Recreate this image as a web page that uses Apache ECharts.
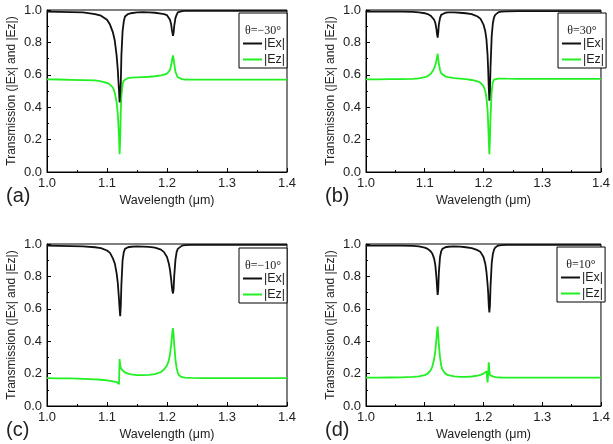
<!DOCTYPE html>
<html><head><meta charset="utf-8">
<script src="https://cdn.jsdelivr.net/npm/echarts@6/dist/echarts.min.js"></script>
<style>html,body{margin:0;padding:0;background:#fff}#c{width:613px;height:444px}</style>
</head><body><div id="c"></div>
<script>
var wl = [1.0,1.02,1.04,1.06,1.08,1.09,1.10,1.105,1.11,1.113,1.116,1.118,1.12,1.121,1.122,1.123,1.124,1.126,1.128,1.13,1.135,1.14,1.15,1.16,1.17,1.18,1.19,1.195,1.2,1.203,1.205,1.207,1.208,1.209,1.21,1.211,1.212,1.214,1.216,1.218,1.22,1.225,1.23,1.24,1.26,1.3,1.35,1.4];

var exA = [0.99,0.989,0.987,0.985,0.975,0.965,0.94,0.91,0.86,0.81,0.72,0.63,0.5,0.43,0.42,0.55,0.72,0.87,0.93,0.96,0.975,0.98,0.985,0.986,0.985,0.983,0.978,0.974,0.968,0.96,0.94,0.91,0.88,0.86,0.84,0.86,0.9,0.95,0.97,0.985,0.99,0.993,0.994,0.995,0.995,0.995,0.995,0.995];
var ezA = [0.572,0.571,0.569,0.567,0.565,0.56,0.55,0.54,0.52,0.49,0.43,0.36,0.22,0.11,0.2,0.38,0.47,0.54,0.565,0.575,0.58,0.582,0.584,0.586,0.588,0.591,0.597,0.601,0.607,0.615,0.63,0.66,0.68,0.705,0.72,0.7,0.67,0.62,0.6,0.585,0.578,0.573,0.571,0.57,0.57,0.57,0.57,0.57];

var exB = [0.99,0.99,0.99,0.99,0.988,0.985,0.98,0.975,0.965,0.955,0.94,0.92,0.88,0.85,0.83,0.86,0.91,0.95,0.97,0.978,0.983,0.985,0.985,0.983,0.98,0.975,0.96,0.945,0.91,0.87,0.82,0.72,0.63,0.52,0.44,0.5,0.65,0.84,0.92,0.955,0.97,0.985,0.99,0.992,0.993,0.993,0.993,0.993];
var ezB = [0.572,0.572,0.573,0.573,0.575,0.578,0.585,0.592,0.605,0.62,0.64,0.66,0.69,0.71,0.73,0.7,0.67,0.63,0.61,0.6,0.59,0.585,0.58,0.577,0.573,0.568,0.56,0.55,0.53,0.5,0.46,0.38,0.3,0.2,0.11,0.2,0.34,0.5,0.555,0.57,0.575,0.577,0.577,0.576,0.575,0.575,0.575,0.575];

var exC = [0.99,0.989,0.987,0.985,0.98,0.975,0.96,0.945,0.91,0.88,0.82,0.76,0.66,0.6,0.555,0.62,0.75,0.9,0.95,0.97,0.98,0.983,0.985,0.984,0.982,0.978,0.965,0.95,0.92,0.88,0.84,0.78,0.74,0.71,0.695,0.72,0.8,0.9,0.95,0.97,0.98,0.99,0.993,0.994,0.995,0.995,0.995,0.995];
var ezC = [0.172,0.171,0.17,0.168,0.164,0.162,0.158,0.155,0.152,0.15,0.148,0.152,0.135,0.29,0.25,0.235,0.228,0.22,0.213,0.207,0.2,0.195,0.19,0.19,0.192,0.197,0.21,0.225,0.25,0.28,0.32,0.38,0.42,0.46,0.48,0.44,0.38,0.29,0.235,0.205,0.19,0.178,0.175,0.173,0.172,0.172,0.172,0.172];

var exD = [0.99,0.99,0.99,0.99,0.988,0.985,0.978,0.97,0.955,0.94,0.91,0.87,0.79,0.73,0.685,0.72,0.82,0.92,0.955,0.97,0.98,0.983,0.985,0.984,0.98,0.975,0.962,0.95,0.92,0.88,0.83,0.75,0.7,0.62,0.578,0.62,0.74,0.88,0.94,0.965,0.978,0.99,0.993,0.994,0.995,0.995,0.995,0.995];
var ezD = [0.175,0.175,0.176,0.177,0.18,0.183,0.19,0.2,0.22,0.245,0.29,0.34,0.42,0.46,0.49,0.44,0.38,0.3,0.25,0.225,0.2,0.19,0.183,0.18,0.18,0.182,0.187,0.192,0.2,0.208,0.215,0.145,0.2,0.27,0.22,0.19,0.183,0.185,0.183,0.18,0.178,0.177,0.176,0.175,0.175,0.175,0.175,0.175];

var xTicks = [1.0,1.1,1.2,1.3,1.4];
var yTicks = [0.0,0.2,0.4,0.6,0.8,1.0];
var angles = ['θ=−30°','θ=30°','θ=−10°','θ=10°'];
var panelLabels = ['(a)','(b)','(c)','(d)'];
var exAll = [exA, exB, exC, exD];
var ezAll = [ezA, ezB, ezC, ezD];

var FONT = 'Arial, "Liberation Sans", sans-serif';
var grids = [
  {left:47, top:10, width:240, height:162},
  {left:366, top:10, width:239, height:162},
  {left:47, top:244, width:240, height:162},
  {left:366, top:244, width:239, height:162}
];
var legendPos = [
  {left:239, top:13},{left:558, top:13},{left:239, top:248},{left:557, top:247}
];

function pairs(x, y){ return x.map(function(v,i){ return [v, y[i]]; }); }

var option = {
  animation:false,
  backgroundColor:'#fff',
  grid: grids.map(function(g){ return Object.assign({show:true, borderColor:'#000', borderWidth:1, backgroundColor:'transparent'}, g); }),
  xAxis: grids.map(function(g,i){ return {
    type:'value', gridIndex:i, min:xTicks[0], max:xTicks[xTicks.length-1], interval:0.1,
    name:'Wavelength (μm)', nameLocation:'middle', nameGap:22,
    nameTextStyle:{fontFamily:FONT, fontSize:12.5, color:'#222'},
    axisLine:{show:true, lineStyle:{color:'#000', width:1}},
    axisTick:{show:true, inside:true, length:4, lineStyle:{color:'#000'}},
    minorTick:{show:true, splitNumber:2, length:2, lineStyle:{color:'#000'}},
    splitLine:{show:false},
    axisLabel:{fontFamily:FONT, fontSize:13, color:'#222', margin:5, formatter:function(v){ return v.toFixed(1); }}
  }; }),
  yAxis: grids.map(function(g,i){ return {
    type:'value', gridIndex:i, min:yTicks[0], max:yTicks[yTicks.length-1], interval:0.2,
    name:'Transmission (|Ex| and |Ez|)', nameLocation:'middle', nameGap:29,
    nameTextStyle:{fontFamily:FONT, fontSize:12, color:'#222'},
    axisLine:{show:true, lineStyle:{color:'#000', width:1}},
    axisTick:{show:true, inside:true, length:4, lineStyle:{color:'#000'}},
    minorTick:{show:true, splitNumber:2, length:2, lineStyle:{color:'#000'}},
    splitLine:{show:false},
    axisLabel:{fontFamily:FONT, fontSize:13, color:'#222', margin:5, formatter:function(v){ return v.toFixed(1); }}
  }; }),
  legend: legendPos.map(function(p){ return {
    left:p.left, top:p.top, orient:'vertical', data:['|Ex|','|Ez|'],
    borderColor:'#000', borderWidth:1, padding:[24,2,2,4], itemGap:3,
    icon:'rect', itemWidth:19, itemHeight:2, selectedMode:false, backgroundColor:'#fff',
    textStyle:{fontFamily:FONT, fontSize:12.5, color:'#222', padding:[0,0,0,-3]}
  }; }),
  series: [],
  graphic: []
};
for (var i=0;i<4;i++){
  option.series.push({name:'|Ex|', type:'line', xAxisIndex:i, yAxisIndex:i, data:pairs(wl, exAll[i]),
    symbol:'none', lineStyle:{color:'#111', width:1.8}, itemStyle:{color:'#111'}, z:3});
  option.series.push({name:'|Ez|', type:'line', xAxisIndex:i, yAxisIndex:i, data:pairs(wl, ezAll[i]),
    symbol:'none', lineStyle:{color:'#22f022', width:1.8}, itemStyle:{color:'#22f022'}, z:2});
  var lp = legendPos[i];
  option.graphic.push({type:'text', x:lp.left+24, y:lp.top+18, z:100,
    style:{text:angles[i], font:'12px "Liberation Serif", "Times New Roman", serif', fill:'#222', textAlign:'center', textVerticalAlign:'middle'}});
  var g = grids[i];
  option.graphic.push({type:'text', left:g.left-41, top:g.top+g.height+14,
    style:{text:panelLabels[i], font:'20px '+FONT, fill:'#222'}});
}
var chart = echarts.init(document.getElementById('c'), null, {renderer:'canvas'});
chart.setOption(option);
</script></body></html>
